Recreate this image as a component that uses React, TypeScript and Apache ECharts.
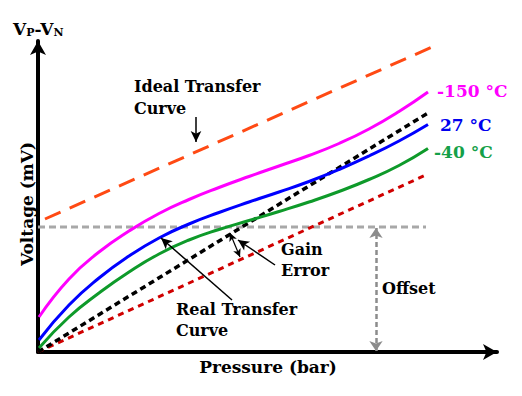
import React, { useEffect, useRef } from "react";
import * as echarts from "echarts";

// Pressure positions (arbitrary units along the x axis)
const pressure = [1, 31, 61, 91, 121, 151, 181, 211, 241, 271, 301, 331, 361, 390];
// Real transfer curves (voltage, arbitrary units)
const vMinus150 = [35, 73, 100, 121, 138.5, 152.5, 164.5, 175.5, 186, 196.5, 208.5, 223, 240.5, 260];
const v27 = [12, 47, 74, 96, 114, 128, 139.5, 150, 160, 170.5, 182.5, 196, 211, 227.5];
const vMinus40 = [4, 35, 59, 80, 98, 112, 122.5, 131.5, 140.5, 150, 160.5, 172.5, 186.5, 203.5];
// Straight reference lines
const idealX = [7, 394];
const idealY = [133, 305];
const gainLineX = [0, 390];
const gainLineY = [0, 239];
const zeroOffsetX = [0, 390];
const zeroOffsetY = [0, 178];
const offsetLevel = 125;
const offsetEndX = 388;
const offsetArrowX = 338;
const tempLabels = ["-150 °C", "27 °C", "-40 °C"];

const FONT = '"DejaVu Serif", "Liberation Serif", serif';

const pairs = (xs: number[], ys: number[]) => xs.map((x, i) => [x, ys[i]]);

export default function App() {
  const ref = useRef<HTMLDivElement>(null);
  useEffect(() => {
    if (!ref.current) return;
    const chart = echarts.init(ref.current, undefined, { renderer: "svg" });
    const arrow = (from: number[], to: number[], color: string, width: number, size: number[], both = false, type: any = "solid", curveness = 0) => [
      {
        coord: from,
        symbol: both ? "arrow" : "none",
        symbolSize: size,
        lineStyle: { color, width, type, curveness },
        itemStyle: { color },
      },
      { coord: to, symbol: "arrow", symbolSize: size, itemStyle: { color } },
    ];
    const curve = (data: number[], color: string) => ({
      type: "line",
      data: pairs(pressure, data),
      symbol: "none",
      smooth: 0.5,
      lineStyle: { color, width: 3 },
    });
    chart.setOption({
      animation: false,
      grid: { left: 38, right: 25, top: 41, bottom: 44 },
      xAxis: {
        type: "value",
        min: 0,
        max: 459,
        axisLine: { show: true, symbol: ["none", "arrow"], symbolSize: [12, 14], lineStyle: { color: "#000", width: 4 } },
        axisTick: { show: false },
        axisLabel: { show: false },
        splitLine: { show: false },
      },
      yAxis: {
        type: "value",
        min: 0,
        max: 311,
        axisLine: { show: true, symbol: ["none", "arrow"], symbolSize: [12, 14], lineStyle: { color: "#000", width: 4 } },
        axisTick: { show: false },
        axisLabel: { show: false },
        splitLine: { show: false },
      },
      series: [
        {
          type: "line",
          data: pairs(idealX, idealY),
          symbol: "none",
          lineStyle: { color: "#FF4A14", width: 3, type: [17, 10] },
        },
        {
          type: "line",
          data: [[0, offsetLevel], [offsetEndX, offsetLevel]],
          symbol: "none",
          lineStyle: { color: "#A8A8A8", width: 3, type: [7, 4] },
        },
        {
          type: "line",
          data: pairs(zeroOffsetX, zeroOffsetY),
          symbol: "none",
          lineStyle: { color: "#D00000", width: 3, type: [6, 5] },
        },
        {
          type: "line",
          data: pairs(gainLineX, gainLineY),
          symbol: "none",
          lineStyle: { color: "#000", width: 3.5, type: [6, 4] },
        },
        curve(vMinus40, "#0E9A2A"),
        curve(v27, "#0000FF"),
        curve(vMinus150, "#FF00FF"),
        {
          type: "line",
          data: [],
          markLine: {
            silent: true,
            label: { show: false },
            emphasis: { disabled: true },
            data: [
              arrow([offsetArrowX, 1], [offsetArrowX, offsetLevel - 1], "#8C8C8C", 2.5, [10, 10], true, [5, 3]),
              arrow([158, 235], [158, 210], "#000", 1.5, [8, 11]),
              arrow([194, 52], [123, 114], "#000", 1.5, [8, 11]),
              arrow([237, 87], [200, 112], "#000", 1.5, [8, 11]),
              arrow([192, 119], [202, 95], "#000", 1.2, [6, 8], true, "solid", -0.4),
            ],
          },
        },
      ],
      graphic: [
        {
          type: "text",
          x: 13,
          y: 20,
          style: {
            text: "{v|V}{s|P}{v|-V}{s|N}",
            font: `bold 17px ${FONT}`,
            fill: "#000",
            rich: {
              v: { font: `bold 17px ${FONT}`, fill: "#000", lineHeight: 18 },
              s: { font: `bold 11px ${FONT}`, fill: "#000", lineHeight: 12, verticalAlign: "bottom" },
            },
          },
        },
        {
          type: "text",
          x: 27,
          y: 204,
          rotation: Math.PI / 2,
          style: { text: "Voltage (mV)", font: `bold 17px ${FONT}`, fill: "#000", align: "center", verticalAlign: "middle" },
        },
        {
          type: "text",
          x: 268,
          y: 367,
          style: { text: "Pressure (bar)", font: `bold 17px ${FONT}`, fill: "#000", align: "center", verticalAlign: "middle" },
        },
        {
          type: "text",
          x: 134,
          y: 75,
          style: { text: "Ideal Transfer\nCurve", font: `bold 16px ${FONT}`, lineHeight: 22, fill: "#000" },
        },
        {
          type: "text",
          x: 176,
          y: 299,
          style: { text: "Real Transfer\nCurve", font: `bold 16px ${FONT}`, lineHeight: 21, fill: "#000" },
        },
        {
          type: "text",
          x: 281,
          y: 239,
          style: { text: "Gain\nError", font: `bold 16px ${FONT}`, lineHeight: 21, fill: "#000" },
        },
        {
          type: "text",
          x: 382,
          y: 288,
          style: { text: "Offset", font: `bold 16px ${FONT}`, fill: "#000", verticalAlign: "middle" },
        },
        {
          type: "text",
          x: 437,
          y: 91,
          style: { text: tempLabels[0], font: `bold 17px ${FONT}`, fill: "#FF00FF", verticalAlign: "middle" },
        },
        {
          type: "text",
          x: 440,
          y: 125,
          style: { text: tempLabels[1], font: `bold 17px ${FONT}`, fill: "#0000EE", verticalAlign: "middle" },
        },
        {
          type: "text",
          x: 434,
          y: 152,
          style: { text: tempLabels[2], font: `bold 17px ${FONT}`, fill: "#14A048", verticalAlign: "middle" },
        },
      ],
    });
    return () => chart.dispose();
  }, []);
  return (
    <div
      ref={ref}
      style={{ position: "absolute", left: 0, top: 0, width: 522, height: 396, background: "#fff" }}
    />
  );
}
